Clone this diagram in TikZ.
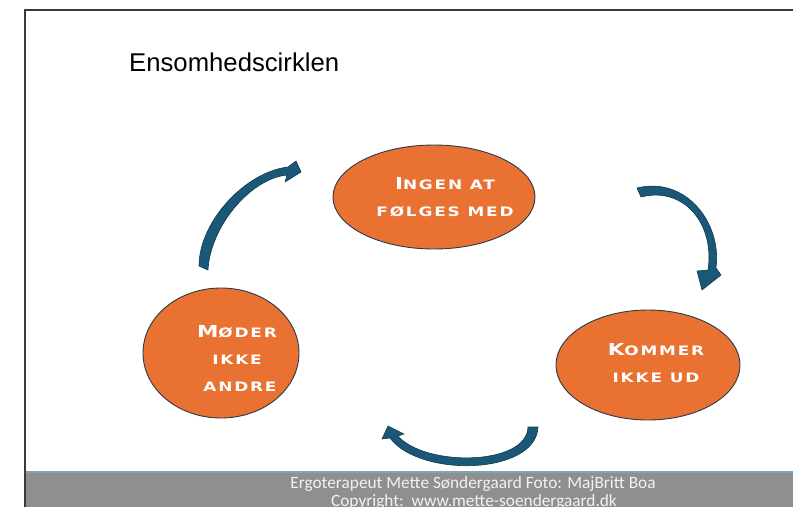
\documentclass[tikz,border=0pt]{standalone}
\usepackage{fontspec}
\setmainfont{Liberation Sans}
\newfontfamily\capsfont[FakeStretch=1.3,LetterSpace=14]{DejaVu Sans}
\newfontfamily\footfont{Carlito}
\usetikzlibrary{shapes.geometric}

\definecolor{blobfill}{HTML}{E97132}
\definecolor{blobline}{HTML}{2A3A48}
\definecolor{arrowfill}{HTML}{1B5776}
\definecolor{arrowline}{HTML}{0E3A52}
\definecolor{band}{HTML}{8F8F8F}
\definecolor{bandline}{HTML}{7DA3C3}
\definecolor{frameline}{HTML}{3A3A3A}

% fake small caps: large initial, smaller capitals
\newcommand\capinit[1]{{\fontsize{16.5}{27}\selectfont #1}}

\tikzset{
  blob/.style={ellipse, fill=blobfill, draw=blobline, line width=0.9pt, inner sep=0pt},
  blobtext/.style={text=white, align=center,
    font={\capsfont\bfseries\fontsize{13}{27}\selectfont}},
  bentarrow/.style={fill=arrowfill, draw=arrowline, line width=0.6pt, line join=round},
}

\begin{document}
\begin{tikzpicture}[x=1pt, y=-1pt]
\useasboundingbox (0,0) rectangle (793,507);

% slide frame and footer band
\fill[band] (26,472) rectangle (793,507);
\draw[bandline, line width=1.4pt] (26,472) -- (793,472);
\draw[frameline, line width=1.3pt] (25,507) |- (793,10);

% title
\node[anchor=base west, inner sep=0pt, font=\fontsize{25.7}{30}\selectfont] (title) at (129,71) {Ensomhedscirklen};

% the three stages
\node[blob, minimum width=202pt, minimum height=104pt] (top) at (434,197) {};
\node[blob, minimum width=156pt, minimum height=130pt] (left) at (221,353) {};
\node[blob, minimum width=184pt, minimum height=110pt] (right) at (648,365) {};

\node[blobtext] (toptext) at (445,197) {\capinit{I}NGEN AT\\FØLGES MED};
\node[blobtext] (lefttext) at (237,358) {\capinit{M}ØDER\\IKKE\\\hspace*{6pt}ANDRE};
\node[blobtext] (righttext) at (656,363) {\capinit{K}OMMER\\IKKE UD};

% curved arrow: left stage up to top stage
\draw[bentarrow] (199,266) .. controls (199,222) and (245,172) .. (288,167)
  -- (296,161) -- (301,172) -- (285,182) -- (287,175)
  .. controls (249,179) and (210,228) .. (208,270) -- cycle;

% curved arrow: top stage down to right stage
\draw[bentarrow] (637,188) .. controls (685,176) and (722,222) .. (716,268)
  -- (721,275) -- (702,290) -- (697,271) -- (708,270)
  .. controls (715,224) and (684,186) .. (641,197) -- cycle;

% curved arrow: right stage round to left stage
\draw[bentarrow] (538,427) .. controls (536,475) and (420,478) .. (390,438)
  -- (382,439) -- (388,426) -- (404,434) -- (398,436)
  .. controls (425,467) and (527,466) .. (528,427) -- cycle;

% footer text
\node[anchor=base, inner sep=0pt, text=white!95!black, font={\footfont\fontsize{17.3}{18}\selectfont}] (credit) at (473,488) {Ergoterapeut Mette Søndergaard Foto: MajBritt Boa};
\node[anchor=base, inner sep=0pt, text=white!95!black, font={\footfont\fontsize{17.3}{18}\selectfont}] (copyright) at (474,506) {Copyright:\ \ www.mette-soendergaard.dk};
\end{tikzpicture}
\end{document}
